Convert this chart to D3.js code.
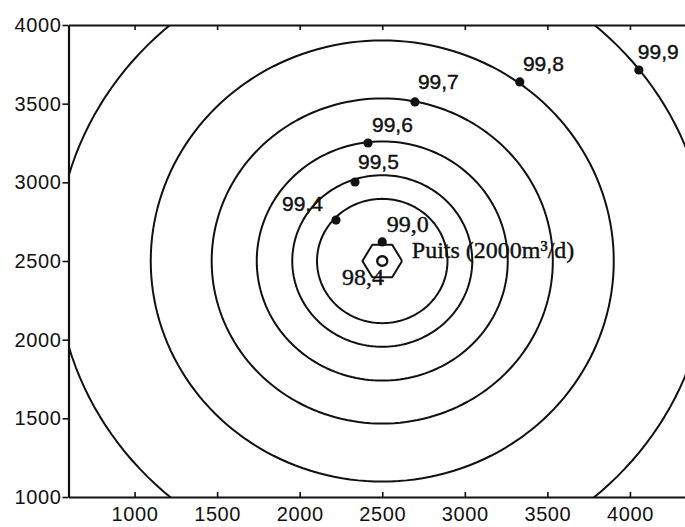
<!DOCTYPE html>
<html>
<head>
<meta charset="utf-8">
<script src="https://cdn.jsdelivr.net/npm/d3@7/dist/d3.min.js"></script>
<style>
  html, body { margin: 0; padding: 0; background: #fff; }
  svg { display: block; }
</style>
</head>
<body>
<div id="chart"></div>
<script>
// ---- data ----
const xTicks = [1000, 1500, 2000, 2500, 3000, 3500, 4000];
const yTicks = [1000, 1500, 2000, 2500, 3000, 3500, 4000];
const wellX = 2500, wellY = 2500;
const levels = ["98,4", "99,0", "99,4", "99,5", "99,6", "99,7", "99,8", "99,9"];
const radii  = [30, 120, 395, 545, 760, 1033, 1402, 1975];   // contour radius (m)
const sides  = [0, 6, 0, 0, 0, 0, 0, 0];                      // 0 = smooth, n = coarse polygon
const dotX   = [null, 2500, 2220, 2335, 2414, 2698, 3333, 4054];
const dotY   = [null, 2621, 2760, 3002, 3250, 3511, 3638, 3714];
const labelX = [2256, 2528, 1893, 2353, 2438, 2716, 3352, 4048];
const labelY = [2347, 2684, 2818, 3085, 3320, 3593, 3708, 3784];
const serifLabel = [true, true, false, false, false, false, false, false];
const wellLabel = "Puits (2000m³/d)";
const wellLabelX = 2679, wellLabelY = 2519;

// ---- layout ----
const W = 685, H = 527;
const x = d3.scaleLinear().domain([600, 4400]).range([68.5, 696]);
const y = d3.scaleLinear().domain([1000, 4000]).range([497, 25]);

const svg = d3.select("#chart").append("svg")
  .attr("width", W).attr("height", H).attr("viewBox", `0 0 ${W} ${H}`);

svg.append("defs").append("clipPath").attr("id", "plot")
  .append("rect").attr("x", x.range()[0]).attr("y", y.range()[1])
  .attr("width", x.range()[1] - x.range()[0]).attr("height", y.range()[0] - y.range()[1]);

const ink = "#111";
const line = d3.line().x(d => x(d[0])).y(d => y(d[1]));

function contourPoints(r, n) {
  const step = n ? 360 / n : 2;
  return d3.range(0, 360 + step / 2, step).map(a => {
    const t = a * Math.PI / 180;
    return [wellX + r * Math.cos(t), wellY + r * Math.sin(t)];
  });
}

const g = svg.append("g").attr("clip-path", "url(#plot)");
levels.forEach((lv, i) => {
  g.append("path")
    .attr("d", line(contourPoints(radii[i], sides[i])))
    .attr("fill", "none").attr("stroke", ink)
    .attr("stroke-width", i === 0 ? 2.4 : 2)
    .attr("stroke-linejoin", "round");
});

// dots
levels.forEach((lv, i) => {
  if (dotX[i] == null) return;
  svg.append("circle").attr("cx", x(dotX[i])).attr("cy", y(dotY[i]))
    .attr("r", 4.6).attr("fill", ink);
});

// labels
levels.forEach((lv, i) => {
  svg.append("text").attr("x", x(labelX[i])).attr("y", y(labelY[i]))
    .attr("font-family", serifLabel[i] ? "'Liberation Serif', 'Times New Roman', serif" : "'Liberation Sans', Arial, sans-serif")
    .attr("font-size", serifLabel[i] ? 24 : 21)
    .attr("fill", ink).attr("stroke", ink).attr("stroke-width", 0.4)
    .text(lv);
});
svg.append("text").attr("x", x(wellLabelX)).attr("y", y(wellLabelY))
  .attr("font-family", "'Liberation Serif', 'Times New Roman', serif")
  .attr("font-size", 24).attr("fill", ink).attr("stroke", ink).attr("stroke-width", 0.4)
  .text(wellLabel);

// ---- axes ----
const fmt = d3.format("d");
const axisStroke = 2.2;
const xB = svg.append("g").attr("transform", `translate(0,${y(1000)})`)
  .call(d3.axisBottom(x).tickValues(xTicks).tickFormat(fmt).tickSizeInner(-5).tickSizeOuter(0).tickPadding(10));
const xT = svg.append("g").attr("transform", `translate(0,${y(4000)})`)
  .call(d3.axisTop(x).tickValues(xTicks).tickSizeInner(-5).tickSizeOuter(0).tickFormat(""));
const yL = svg.append("g").attr("transform", `translate(${x(600)},0)`)
  .call(d3.axisLeft(y).tickValues(yTicks).tickFormat(fmt).tickSizeInner(6).tickSizeOuter(0).tickPadding(1));

[xB, xT, yL].forEach(a => {
  a.select(".domain").attr("stroke", ink).attr("stroke-width", axisStroke);
  a.selectAll(".tick line").attr("stroke", ink).attr("stroke-width", 1.6);
  a.selectAll(".tick text").attr("fill", ink)
    .attr("font-family", "'Liberation Sans', Arial, sans-serif")
    .attr("font-size", 20).attr("letter-spacing", 0.6);
});
xB.selectAll(".tick text").attr("dy", "0.71em");
</script>
</body>
</html>
